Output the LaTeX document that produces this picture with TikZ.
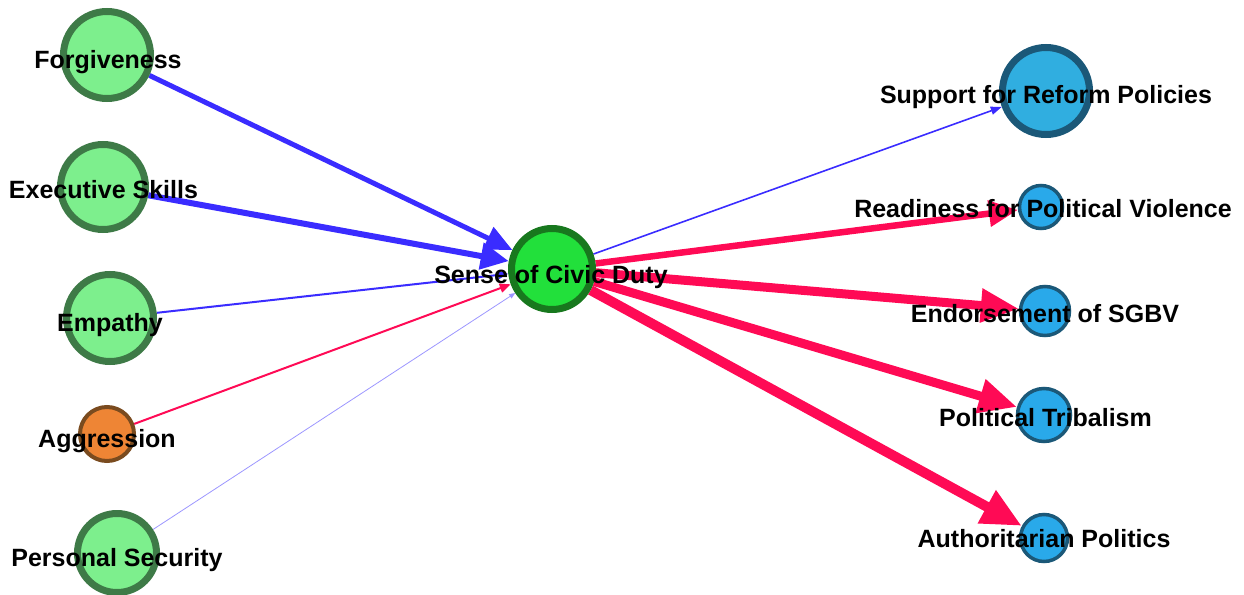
\documentclass[tikz,border=0pt]{standalone}
\usepackage{fontspec}
\setmainfont{Liberation Sans}
\usetikzlibrary{arrows.meta}
\pgfdeclarelayer{edges}
\pgfsetlayers{edges,main}

\definecolor{traitfill}{HTML}{7DEF8D}
\definecolor{traitline}{HTML}{3E7A47}
\definecolor{hubfill}{HTML}{22E03B}
\definecolor{hubline}{HTML}{18781E}
\definecolor{riskfill}{HTML}{EE8535}
\definecolor{riskline}{HTML}{7A4B1F}
\definecolor{outfill}{HTML}{29A9EA}
\definecolor{reffill}{HTML}{30AEE0}
\definecolor{outline}{HTML}{1B5878}
\definecolor{posedge}{HTML}{3A2CFF}
\definecolor{negedge}{HTML}{FF0A55}
\definecolor{faintedge}{HTML}{9C96FF}

\begin{document}
\begin{tikzpicture}[x=1pt,y=-1pt,
  vnode/.style={circle, inner sep=0pt, minimum size=#1},
  trait/.style={vnode=#1, fill=traitfill, draw=traitline, line width=7pt},
  hub/.style={vnode=#1, fill=hubfill, draw=hubline, line width=7pt},
  risk/.style={vnode=#1, fill=riskfill, draw=riskline, line width=4pt},
  outcome/.style={vnode=#1, fill=outfill, draw=outline, line width=3.5pt},
  bigoutcome/.style={vnode=#1, fill=reffill, draw=outline, line width=7pt},
  lbl/.style={anchor=base, inner sep=0pt, font=\fontsize{25}{30}\selectfont\bfseries},
  link/.style n args={4}{draw=#1, line width=#2,
    -{Triangle[length=#3, width=#4]}}
]
\useasboundingbox (0,0) rectangle (1244,594);

% nodes
\node[trait=87]  (forg) at (107,55)  {};
\node[trait=85]  (exec) at (103,187) {};
\node[trait=87]  (emp)  at (110,318) {};
\node[risk=54]   (agg)  at (107,434) {};
\node[trait=79]  (sec)  at (117,553) {};
\node[hub=81]    (civ)  at (552,269) {};
\node[bigoutcome=87] (ref)  at (1046,91)  {};
\node[outcome=43] (viol) at (1041,207) {};
\node[outcome=49] (sgbv) at (1045,311) {};
\node[outcome=53] (trib) at (1044,415) {};
\node[outcome=47] (auth) at (1044,538) {};

% connectors
\begin{pgfonlayer}{edges}
\draw[link={posedge}{5pt}{27pt}{24pt}]   (forg) -- (civ);
\draw[link={posedge}{6pt}{28pt}{26pt}]   (exec) -- (civ);
\draw[link={posedge}{2pt}{10pt}{8pt}]    (emp)  -- (civ);
\draw[link={negedge}{2pt}{11pt}{9pt}]    (agg)  -- (civ);
\draw[link={faintedge}{0.8pt}{6pt}{5pt}] (sec)  -- (civ);
\draw[link={posedge}{1.6pt}{11pt}{8pt}]  (civ)  -- (ref);
\draw[link={negedge}{6.5pt}{29pt}{25pt}] (civ)  -- (viol);
\draw[link={negedge}{9pt}{38pt}{32pt}]   (civ)  -- (sgbv);
\draw[link={negedge}{9pt}{38pt}{33pt}]   (civ)  -- (trib);
\draw[link={negedge}{10pt}{40pt}{35pt}]  (civ)  -- (auth);
\end{pgfonlayer}

% labels
\node[lbl] (forgl) at (108,68)   {Forgiveness};
\node[lbl] (execl) at (103.5,198) {Executive Skills};
\node[lbl] (empl)  at (110,331)  {Empathy};
\node[lbl] (aggl)  at (107,447)  {Aggression};
\node[lbl] (secl)  at (117,566)  {Personal Security};
\node[lbl] (civl)  at (551,283)  {Sense of Civic Duty};
\node[lbl] (refl)  at (1046,103) {Support for Reform Policies};
\node[lbl] (violl) at (1043,217) {Readiness for Political Violence};
\node[lbl] (sgbvl) at (1045,322) {Endorsement of SGBV};
\node[lbl] (tribl) at (1045.5,426) {Political Tribalism};
\node[lbl] (authl) at (1044,547) {Authoritarian Politics};
\end{tikzpicture}
\end{document}
